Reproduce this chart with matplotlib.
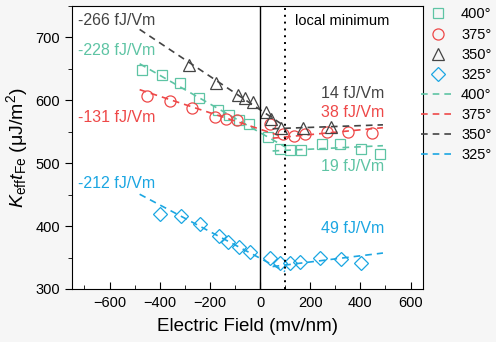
import numpy as np
import matplotlib
matplotlib.use("Agg")
import matplotlib.pyplot as plt
from matplotlib.ticker import MultipleLocator

plt.rcParams['font.family'] = ['Liberation Sans', 'DejaVu Sans']
plt.rcParams['mathtext.fontset'] = 'custom'
plt.rcParams['mathtext.rm'] = 'Liberation Sans'
plt.rcParams['mathtext.it'] = 'Liberation Sans:italic'

# data (field in mV/nm, K_eff*t_Fe in uJ/m^2)
labels = ['400°', '375°', '350°', '325°']

field_400 = [-472, -392, -319, -244, -167, -124, -84, -44, 32, 78, 120, 162, 245, 317, 403, 479]
k_400 = [649, 641, 627, 604, 584, 576, 568, 562, 541, 523, 521, 521, 530, 531, 523, 515]

field_375 = [-449, -359, -273, -180, -136, -90, 40, 91, 134, 178, 266, 352, 445]
k_375 = [607, 599, 588, 573, 570, 568, 563, 547, 544, 546, 549, 549, 548]

field_350 = [-283, -176, -87, -58, -28, 25, 45, 85, 171, 281]
k_350 = [656, 627, 609, 603, 598, 581, 571, 556, 556, 558]

field_325 = [-399, -317, -240, -164, -127, -84, -41, 39, 81, 118, 160, 240, 324, 403]
k_325 = [420, 416, 403, 385, 375, 367, 359, 349, 341, 342, 343, 349, 347, 342]

# fitted slopes in fJ/Vm (left / right of the local minimum)
slope_left = [-228, -131, -266, -212]
slope_right = [19, 38, 14, 49]

colors = ['#5ec4a4', '#ee4848', '#444444', '#1ba6e2']
markers = ['s', 'o', '^', 'D']
msizes = [7.5, 8, 8.5, 6.8]

fields = [field_400, field_375, field_350, field_325]
kvals = [k_400, k_375, k_350, k_325]

fig = plt.figure(figsize=(4.96, 3.42), dpi=100, facecolor='#f6f6f6')
ax = fig.add_axes([0.145, 0.155, 0.708, 0.8275])
ax.set_facecolor('white')

split = 60
handles_m = []
handles_l = []
for i in range(4):
    x = np.array(fields[i], dtype=float)
    y = np.array(kvals[i], dtype=float)
    h, = ax.plot(x, y, linestyle='none', marker=markers[i], ms=msizes[i],
                 mfc='none', mec=colors[i], mew=0.9)
    handles_m.append(h)
    # left segment: slope fixed by label, intercept through the points
    sl = slope_left[i] / 1000.0
    xl, yl = x[x < split], y[x < split]
    b = yl.mean() - sl * xl.mean()
    xx = np.array([-480, 100])
    ln, = ax.plot(xx, b + sl * xx, color=colors[i], ls=(0, (4, 3)), lw=1.2)
    handles_l.append(ln)
    sr = slope_right[i] / 1000.0
    xr, yr = x[x >= split], y[x >= split]
    b = yr.mean() - sr * xr.mean()
    xx = np.array([50, 490])
    ax.plot(xx, b + sr * xx, color=colors[i], ls=(0, (4, 3)), lw=1.2)

ax.axvline(0, color='black', lw=1)
ax.axvline(100, color='black', lw=1.4, ls=(0, (1, 2.5)))

ax.set_xlim(-750, 650)
ax.set_ylim(300, 750)
ax.xaxis.set_major_locator(MultipleLocator(200))
ax.xaxis.set_minor_locator(MultipleLocator(100))
ax.yaxis.set_major_locator(MultipleLocator(100))
ax.yaxis.set_minor_locator(MultipleLocator(50))
ax.tick_params(axis='x', which='both', direction='in', labelsize=10.5, pad=5)
ax.tick_params(axis='x', which='major', length=5)
ax.tick_params(axis='x', which='minor', length=3)
ax.tick_params(axis='y', which='both', direction='out', labelsize=10.5)
ax.tick_params(axis='y', which='major', length=5)
ax.tick_params(axis='y', which='minor', length=3)

ax.set_xlabel('Electric Field (mv/nm)', fontsize=13.5, labelpad=6)
ax.set_ylabel(r'$K_{\mathrm{eff}}t_{\mathrm{Fe}}$ (μJ/m$^2$)', fontsize=14, labelpad=4)

fs = 11.5
ax.text(-725, 727, '-266 fJ/Vm', color=colors[2], fontsize=fs, va='center')
ax.text(-725, 679, '-228 fJ/Vm', color=colors[0], fontsize=fs, va='center')
ax.text(-725, 573, '-131 fJ/Vm', color=colors[1], fontsize=fs, va='center')
ax.text(-725, 467, '-212 fJ/Vm', color=colors[3], fontsize=fs, va='center')
ax.text(496, 611, '14 fJ/Vm', color=colors[2], fontsize=fs, va='center', ha='right')
ax.text(496, 580, '38 fJ/Vm', color=colors[1], fontsize=fs, va='center', ha='right')
ax.text(496, 494, '19 fJ/Vm', color=colors[0], fontsize=fs, va='center', ha='right')
ax.text(496, 396, '49 fJ/Vm', color=colors[3], fontsize=fs, va='center', ha='right')
ax.text(138, 726, 'local minimum', color='black', fontsize=10.5, va='center')

fig.legend(handles_m + handles_l, labels + labels, loc='upper left',
           bbox_to_anchor=(421 / 496, 1 - 7.5 / 342), frameon=False,
           fontsize=10.5, borderpad=0, borderaxespad=0, labelspacing=0.42,
           handlelength=2.3, handletextpad=0.45)

fig.savefig('out.png', dpi=100, facecolor=fig.get_facecolor())
